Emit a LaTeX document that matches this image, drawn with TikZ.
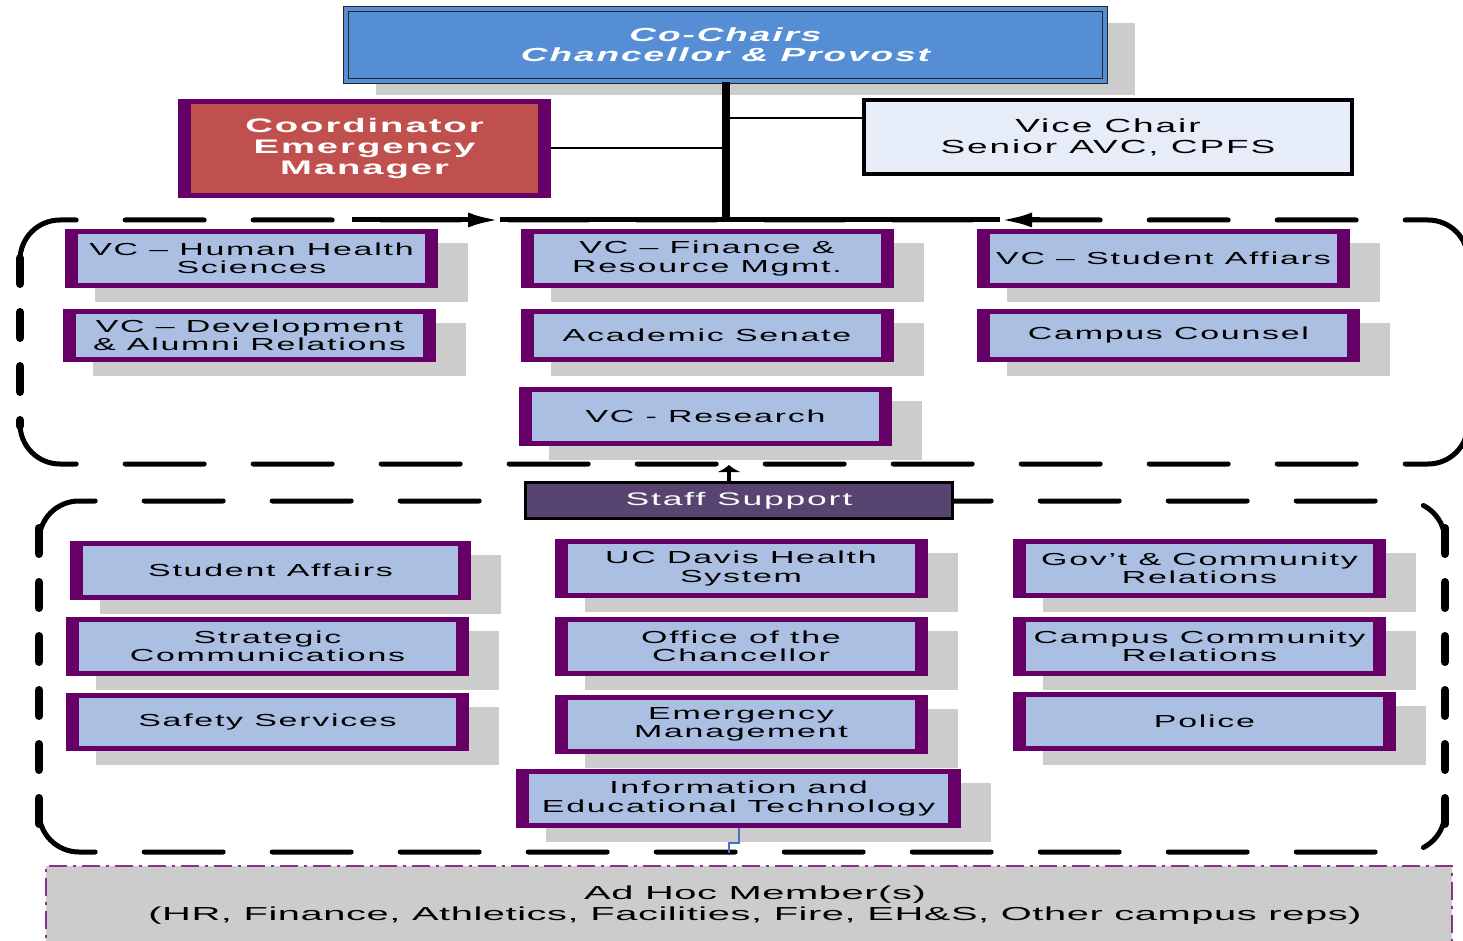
\documentclass[tikz,border=0pt]{standalone}
\usepackage{fontspec}
\setmainfont{Liberation Sans}[FakeStretch=1.95, LetterSpace=10]
\newfontfamily\adhocfont{Liberation Sans}[FakeStretch=2.12, LetterSpace=3]
\usetikzlibrary{arrows.meta, shadows}
\definecolor{boxpurple}{RGB}{102,0,102}
\definecolor{boxblue}{RGB}{171,191,226}
\definecolor{chairblue}{RGB}{85,142,213}
\definecolor{coordred}{RGB}{192,80,77}
\definecolor{vicefill}{RGB}{230,237,248}
\definecolor{stafffill}{RGB}{87,68,112}
\definecolor{adhocline}{RGB}{140,50,140}
\definecolor{linkblue}{RGB}{68,114,196}
\tikzset{
  gshadow/.style={drop shadow={shadow xshift=15pt, shadow yshift=-7pt, fill=black!20, opacity=1}},
  purpleframe/.style={rectangle, inner sep=0pt, align=center, fill=boxpurple,
    path picture={\fill[#1] ([xshift=6.5pt,yshift=2.5pt]path picture bounding box.south west) rectangle ([xshift=-6.5pt,yshift=-2.5pt]path picture bounding box.north east);}},
  vcbox/.style={purpleframe=boxblue, gshadow, minimum width=186.5pt, minimum height=29.5pt, font=\fontsize{8.7}{9.25}\selectfont},
  hdash/.style={line width=2.5pt, line cap=round, dash pattern=on 39.5pt off 24.5pt, rounded corners=20pt},
  vdash/.style={line width=4pt, line cap=round, dash pattern=on 13pt off 14pt},
  busline/.style={line width=2.5pt},
  thinlink/.style={line width=1pt},
}
\begin{document}
\begin{tikzpicture}[x=0.5pt, y=-0.5pt]
\useasboundingbox (0,0) rectangle (1463,941);
% dashed group frames
\draw[hdash] (20,260) |- (1468,220) -- (1468,260);
\draw[vdash] (20,258) -- (20,426);
\draw[vdash] (1468,258) -- (1468,426);
\draw[hdash] (20,424) |- (1468,464) -- (1468,424);
\draw[hdash] (39,541) |- (1445,501) -- (1445,541);
\draw[vdash] (39,528) -- (39,826);
\draw[vdash] (1445,528) -- (1445,826);
\draw[hdash] (39,812) |- (1445,852) -- (1445,812);
% chairs
\node[rectangle, gshadow, fill=chairblue, draw=black!85, line width=0.6pt, double=chairblue, double distance=1.8pt,
  minimum width=379.5pt, minimum height=36pt, align=center, text=white,
  font=\fontsize{9.5}{10}\selectfont\bfseries\itshape] (top) at (725.5,45) {Co-Chairs\\Chancellor \& Provost};
\node[purpleframe=coordred, minimum width=186.5pt, minimum height=49.5pt, text=white,
  font=\fontsize{9.8}{10.5}\selectfont\bfseries] (coord) at (364.5,148.5) {Coordinator\\Emergency\\Manager};
\node[rectangle, draw=black, line width=2pt, fill=vicefill, minimum width=244pt, minimum height=37pt,
  align=center, font=\fontsize{9.5}{10.5}\selectfont] (vice) at (1108,137) {Vice Chair\\Senior AVC, CPFS};
% vice chancellors
\node[vcbox] (hhs) at (251.5,258.5) {VC -- Human Health\\Sciences};
\node[vcbox, minimum height=26.5pt] (dev) at (249.5,335.5) {VC -- Development\\\& Alumni Relations};
\node[vcbox] (fin) at (707,258.5) {VC -- Finance \&\\Resource Mgmt.};
\node[vcbox, minimum height=26.5pt] (sen) at (707,335.5) {Academic Senate};
\node[vcbox] (res) at (705.5,416.5) {VC - Research};
\node[vcbox] (stu) at (1163.5,258.5) {VC -- Student Affiars};
\node[vcbox, minimum width=191.5pt, minimum height=26.5pt] (cou) at (1168.5,335.5) {Campus Counsel};
% staff support
\node[rectangle, draw=black, line width=1.5pt, fill=stafffill, text=white, minimum width=213.5pt, minimum height=18pt,
  font=\fontsize{9.1}{10}\selectfont] (staff) at (739,500.5) {Staff Support};
\node[vcbox, minimum width=200.5pt] (sa) at (270.5,570.5) {Student Affairs};
\node[vcbox, minimum width=201.5pt] (sc) at (267.5,646.5) {Strategic\\Communications};
\node[vcbox, minimum width=201.5pt, minimum height=29pt] (ss) at (267.5,722) {Safety Services};
\node[vcbox] (ucd) at (741,568.5) {UC Davis Health\\System};
\node[vcbox] (oc) at (741,646.5) {Office of the\\Chancellor};
\node[vcbox] (em) at (741,724.5) {Emergency\\Management};
\node[vcbox, minimum width=222.5pt] (iet) at (738.5,798.5) {Information and\\Educational Technology};
\node[vcbox] (gov) at (1199.5,568.5) {Gov't \& Community\\Relations};
\node[vcbox] (ccr) at (1199.5,646.5) {Campus Community\\Relations};
\node[vcbox, minimum width=191.5pt] (pol) at (1204.5,721.5) {Police};
% ad hoc
\node[rectangle, fill=black!20, draw=adhocline, line width=1pt, dash pattern=on 9pt off 3pt on 1.5pt off 3pt,
  minimum width=703pt, minimum height=40pt] (adhoc) at (749,905.5) {};
\node[align=center, font=\adhocfont\fontsize{9.4}{10.5}\selectfont] (adhoctext) at (755,905) {Ad Hoc Member(s)\\(HR, Finance, Athletics, Facilities, Fire, EH\&S, Other campus reps)};
% connectors
\coordinate (bus) at (726,220);
\coordinate (busl) at (352,220);
\coordinate (busr) at (1040,220);
\coordinate (tipl) at (500,220);
\coordinate (tipr) at (1000,220);
\coordinate (vj) at (726,118);
\coordinate (up) at (729,465);
\coordinate (adtop) at (729,853);
\draw[busline, -{Latex[length=16pt,width=7.5pt]}] (busl) -- (tipl);
\draw[busline] (tipl) -- (tipr);
\draw[busline, -{Latex[length=16pt,width=7.5pt]}] (busr) -- (tipr);
\draw[line width=4pt] (top.south) -- (top.south |- bus);
\draw[thinlink] (coord.east) -- (coord.east -| bus);
\draw[thinlink] (vice.west |- vj) -- (vj);
\draw[line width=2pt, -{Latex[length=3.5pt,width=12pt]}] (up |- staff.north) -- (up);
\draw[linkblue, line width=1pt] (iet.south) -- ++(0,15) -| (adtop);
\end{tikzpicture}
\end{document}
